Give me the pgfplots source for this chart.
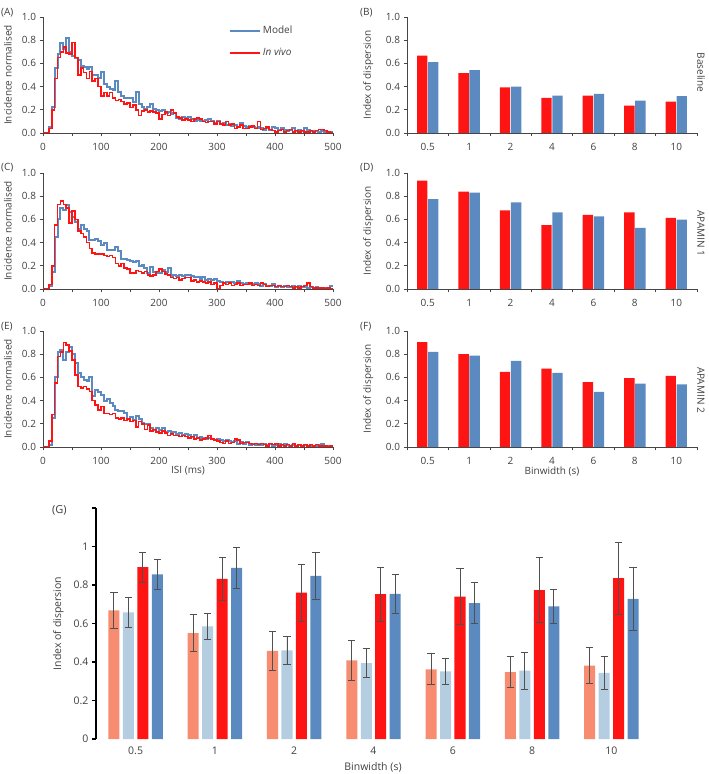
\documentclass[border=0pt]{standalone}
\usepackage{fontspec}
\setmainfont{Open Sans}
\usepackage{pgfplots}
\usepackage{pgfplotstable}
\pgfplotsset{compat=1.18}
\definecolor{myred}{RGB}{255,20,20}
\definecolor{myblue}{RGB}{91,138,192}
\definecolor{salmon}{RGB}{247,140,112}
\definecolor{ltblue}{RGB}{180,205,224}
\definecolor{axisgrey}{RGB}{70,70,70}
\definecolor{labelgrey}{RGB}{64,64,64}
\definecolor{errgrey}{RGB}{80,80,80}

\pgfplotstableread{
x mod viv
0 0 0
5 0 0
10 0.05 0.04
15 0.22 0.20
20 0.56 0.47
25 0.68 0.65
30 0.78 0.70
35 0.72 0.74
40 0.82 0.69
45 0.70 0.68
50 0.66 0.78
55 0.65 0.65
60 0.63 0.50
65 0.58 0.56
70 0.57 0.52
75 0.55 0.47
80 0.57 0.53
85 0.50 0.45
90 0.50 0.47
95 0.47 0.40
100 0.53 0.32
105 0.42 0.35
110 0.40 0.32
115 0.38 0.35
120 0.37 0.30
125 0.45 0.28
130 0.35 0.29
135 0.32 0.27
140 0.30 0.25
145 0.30 0.26
150 0.30 0.22
155 0.27 0.24
160 0.35 0.20
165 0.25 0.15
170 0.22 0.19
175 0.21 0.20
180 0.22 0.18
185 0.25 0.19
190 0.21 0.18
195 0.20 0.17
200 0.19 0.12
205 0.20 0.16
210 0.17 0.18
215 0.18 0.15
220 0.16 0.20
225 0.17 0.17
230 0.13 0.14
235 0.12 0.13
240 0.14 0.11
245 0.13 0.12
250 0.14 0.11
255 0.12 0.10
260 0.10 0.12
265 0.11 0.13
270 0.10 0.12
275 0.10 0.10
280 0.11 0.09
285 0.12 0.10
290 0.10 0.10
295 0.09 0.08
300 0.10 0.10
305 0.08 0.08
310 0.09 0.07
315 0.07 0.10
320 0.08 0.07
325 0.06 0.08
330 0.07 0.04
335 0.05 0.05
340 0.09 0.07
345 0.06 0.04
350 0.05 0.04
355 0.06 0.05
360 0.05 0.06
365 0.04 0.04
370 0.05 0.10
375 0.04 0.03
380 0.03 0.04
385 0.04 0.05
390 0.03 0.03
395 0.05 0.02
400 0.04 0.01
405 0.03 0.02
410 0.04 0.03
415 0.03 0.01
420 0.02 0.02
425 0.03 0.03
430 0.04 0.01
435 0.02 0.02
440 0.03 0.01
445 0.02 0.02
450 0.04 0.01
455 0.03 0.01
460 0.02 0.02
465 0.02 0.01
470 0.02 0.02
475 0.01 0.03
480 0.02 0.03
485 0.01 0.02
490 0.01 0.01
495 0.01 0.00
500 0.01 0.00
}\histA

\pgfplotstableread{
x mod viv
0 0 0
5 0 0
10 0.03 0.04
15 0.15 0.20
20 0.45 0.55
25 0.60 0.73
30 0.70 0.76
35 0.68 0.73
40 0.72 0.70
45 0.66 0.57
50 0.62 0.67
55 0.58 0.60
60 0.52 0.50
65 0.55 0.48
70 0.52 0.45
75 0.50 0.40
80 0.42 0.35
85 0.42 0.31
90 0.43 0.30
95 0.41 0.30
100 0.38 0.30
105 0.40 0.29
110 0.34 0.28
115 0.34 0.29
120 0.34 0.27
125 0.36 0.22
130 0.33 0.20
135 0.26 0.22
140 0.26 0.18
145 0.25 0.17
150 0.24 0.14
155 0.23 0.14
160 0.24 0.16
165 0.20 0.15
170 0.21 0.14
175 0.18 0.15
180 0.14 0.12
185 0.19 0.11
190 0.15 0.12
195 0.14 0.15
200 0.14 0.17
205 0.16 0.15
210 0.15 0.13
215 0.18 0.12
220 0.11 0.10
225 0.12 0.09
230 0.11 0.10
235 0.12 0.08
240 0.11 0.09
245 0.12 0.10
250 0.12 0.10
255 0.11 0.07
260 0.10 0.08
265 0.10 0.06
270 0.09 0.07
275 0.10 0.06
280 0.08 0.05
285 0.09 0.06
290 0.08 0.04
295 0.09 0.05
300 0.07 0.00
305 0.06 0.03
310 0.05 0.05
315 0.06 0.04
320 0.05 0.05
325 0.06 0.03
330 0.05 0.04
335 0.07 0.05
340 0.05 0.03
345 0.04 0.04
350 0.05 0.04
355 0.04 0.05
360 0.04 0.03
365 0.05 0.04
370 0.04 0.03
375 0.03 0.05
380 0.04 0.04
385 0.03 0.02
390 0.03 0.03
395 0.04 0.03
400 0.02 0.02
405 0.03 0.03
410 0.02 0.02
415 0.03 0.02
420 0.02 0.03
425 0.02 0.02
430 0.03 0.01
435 0.02 0.02
440 0.03 0.01
445 0.02 0.02
450 0.02 0.03
455 0.01 0.05
460 0.02 0.02
465 0.01 0.01
470 0.02 0.01
475 0.01 0.01
480 0.01 0.01
485 0.01 0.00
490 0.01 0.01
495 0.03 0.00
500 0.03 0.00
}\histC

\pgfplotstableread{
x mod viv
0 0 0
5 0 0
10 0.02 0.05
15 0.25 0.28
20 0.60 0.55
25 0.82 0.78
30 0.84 0.82
35 0.75 0.90
40 0.82 0.88
45 0.86 0.83
50 0.80 0.75
55 0.72 0.62
60 0.64 0.52
65 0.60 0.51
70 0.58 0.52
75 0.57 0.50
80 0.60 0.48
85 0.44 0.40
90 0.49 0.36
95 0.47 0.32
100 0.45 0.35
105 0.40 0.29
110 0.41 0.29
115 0.38 0.28
120 0.35 0.29
125 0.32 0.25
130 0.31 0.24
135 0.31 0.25
140 0.29 0.23
145 0.24 0.24
150 0.26 0.22
155 0.23 0.23
160 0.27 0.17
165 0.24 0.22
170 0.21 0.20
175 0.20 0.15
180 0.20 0.19
185 0.16 0.14
190 0.15 0.15
195 0.16 0.13
200 0.15 0.12
205 0.16 0.14
210 0.13 0.12
215 0.14 0.10
220 0.12 0.11
225 0.13 0.10
230 0.11 0.10
235 0.12 0.09
240 0.10 0.10
245 0.11 0.09
250 0.10 0.08
255 0.09 0.09
260 0.10 0.07
265 0.08 0.08
270 0.09 0.06
275 0.08 0.07
280 0.07 0.08
285 0.08 0.10
290 0.07 0.07
295 0.06 0.06
300 0.07 0.05
305 0.06 0.04
310 0.05 0.03
315 0.06 0.05
320 0.05 0.03
325 0.04 0.04
330 0.05 0.07
335 0.03 0.06
340 0.04 0.03
345 0.03 0.04
350 0.04 0.04
355 0.02 0.03
360 0.03 0.02
365 0.02 0.03
370 0.03 0.02
375 0.02 0.03
380 0.03 0.02
385 0.02 0.01
390 0.03 0.03
395 0.01 0.02
400 0.02 0.03
405 0.03 0.01
410 0.02 0.02
415 0.03 0.01
420 0.02 0.02
425 0.01 0.01
430 0.02 0.03
435 0.01 0.01
440 0.02 0.02
445 0.01 0.01
450 0.02 0.02
455 0.01 0.01
460 0.01 0.02
465 0.01 0.01
470 0.01 0.02
475 0.02 0.01
480 0.03 0.01
485 0.01 0.01
490 0.01 0.00
495 0.01 0.01
500 0.01 0.01
}\histE

\pgfplotsset{
  base/.style={
    scale only axis, axis lines=left,
    axis line style={-, draw=axisgrey, line width=0.6pt},
    tick align=outside, major tick length=3.5pt, minor tick length=3.5pt,
    tick style={draw=axisgrey, line width=0.6pt},
    tick label style={font=\fontsize{10}{12}\selectfont, text=labelgrey},
    label style={font=\fontsize{10}{12}\selectfont, text=labelgrey},
    /pgf/number format/assume math mode=true,
    ymin=0,
  },
  small/.style={base, width=290pt, height=116pt, ymax=1,
    ytick={0,0.2,0.4,0.6,0.8,1},
    yticklabel style={/pgf/number format/.cd, fixed, fixed zerofill, precision=1},
    xticklabel style={yshift=-3.5pt},
  },
  hist/.style={small, xmin=0, xmax=500, xtick={0,100,200,300,400,500},
    minor xtick={50,150,250,350,450},
    ylabel={Incidence normalised},
    ylabel style={at={(axis description cs:-0.121,0.5)}, anchor=center}},
  bars/.style={small, xmin=-0.5, xmax=6.5, xtick={0,1,2,3,4,5,6},
    xticklabels={0.5,1,2,4,6,8,10},
    major x tick style={draw=none},
    minor xtick={-0.5,0.5,1.5,2.5,3.5,4.5,5.5,6.5},
    ylabel={Index of dispersion},
    ylabel style={at={(axis description cs:-0.134,0.5)}, anchor=center}},
  modl/.style={const plot, color=myblue, line width=2pt, no marks},
  vivo/.style={const plot, color=myred, line width=1.6pt, no marks},
  rbar/.style={ybar, bar width=0.25, bar shift=-0.133, fill=myred, draw=none},
  bbar/.style={ybar, bar width=0.25, bar shift=0.133, fill=myblue, draw=none},
  gbar/.style={ybar, bar width=0.139, bar shift=0, draw=none,
    error bars/y dir=both, error bars/y explicit,
    error bars/error bar style={line width=0.9pt, color=errgrey},
    error bars/error mark options={rotate=90, mark size=3.6pt, line width=0.9pt, color=errgrey}},
}

\begin{document}
\begin{tikzpicture}
\useasboundingbox (0pt,0pt) rectangle (709pt,774pt);
\tikzset{lab/.style={font=\fontsize{10}{12}\selectfont, text=labelgrey, inner sep=0pt}}

% (A)
\begin{axis}[hist, at={(43pt,641pt)}, anchor=south west,
  legend style={draw=none, fill=none, at={(rel axis cs:0.64,0.94)}, anchor=north west,
    font=\fontsize{10}{12}\selectfont, text=labelgrey, row sep=9pt, inner sep=0pt},
  legend cell align=left]
\addlegendimage{legend image code/.code={\draw[myblue, line width=2.2pt] (0pt,0pt) -- (30pt,0pt);}}
\addlegendentry{Model}
\addlegendimage{legend image code/.code={\draw[myred, line width=2.2pt] (0pt,0pt) -- (30pt,0pt);}}
\addlegendentry{\itshape In vivo}
\addplot[modl, forget plot] table[x=x, y=mod] {\histA};
\addplot[vivo, forget plot] table[x=x, y=viv] {\histA};
\end{axis}

% (B)
\begin{axis}[bars, at={(407pt,641pt)}, anchor=south west]
\addplot[rbar] coordinates {(0,0.666) (1,0.517) (2,0.394) (3,0.303) (4,0.323) (5,0.237) (6,0.271)};
\addplot[bbar] coordinates {(0,0.611) (1,0.543) (2,0.400) (3,0.323) (4,0.337) (5,0.280) (6,0.317)};
\end{axis}

% (C)
\begin{axis}[hist, at={(43pt,485pt)}, anchor=south west]
\addplot[modl] table[x=x, y=mod] {\histC};
\addplot[vivo] table[x=x, y=viv] {\histC};
\end{axis}

% (D)
\begin{axis}[bars, at={(407pt,485pt)}, anchor=south west]
\addplot[rbar] coordinates {(0,0.934) (1,0.839) (2,0.677) (3,0.550) (4,0.640) (5,0.660) (6,0.614)};
\addplot[bbar] coordinates {(0,0.775) (1,0.830) (2,0.746) (3,0.660) (4,0.625) (5,0.527) (6,0.599)};
\end{axis}

% (E)
\begin{axis}[hist, at={(43pt,327pt)}, anchor=south west]
\addplot[modl] table[x=x, y=mod] {\histE};
\addplot[vivo] table[x=x, y=viv] {\histE};
\end{axis}

% (F)
\begin{axis}[bars, at={(407pt,327pt)}, anchor=south west]
\addplot[rbar] coordinates {(0,0.905) (1,0.800) (2,0.648) (3,0.676) (4,0.559) (5,0.593) (6,0.613)};
\addplot[bbar] coordinates {(0,0.820) (1,0.788) (2,0.742) (3,0.639) (4,0.476) (5,0.547) (6,0.539)};
\end{axis}

% (G)
\begin{axis}[base, at={(96pt,35pt)}, anchor=south west, width=555pt, height=231pt,
  ymax=1.2, xmin=-0.5, xmax=6.5,
  axis line style={-, draw=black, line width=1.1pt},
  x axis line style={draw=none},
  tick style={draw=black, line width=1.1pt},
  major tick length=4pt,
  major x tick style={draw=none},
  tick label style={font=\fontsize{10.5}{12}\selectfont, text=labelgrey},
  ytick={0,0.2,0.4,0.6,0.8,1,1.2}, yticklabels={0,0.2,0.4,0.6,0.8,1,},
  xtick={0,1,2,3,4,5,6}, xticklabels={0.5,1,2,4,6,8,10},
  ylabel={Index of dispersion},
  ylabel style={at={(axis description cs:-0.068,0.5)}, anchor=center, font=\fontsize{10.5}{12}\selectfont},
  ]
\addplot[gbar, fill=salmon] coordinates {
  (-0.274,0.668) +- (0,0.093) (0.726,0.550) +- (0,0.095) (1.726,0.458) +- (0,0.100)
  (2.726,0.408) +- (0,0.103) (3.726,0.362) +- (0,0.081) (4.726,0.348) +- (0,0.079) (5.726,0.381) +- (0,0.095)};
\addplot[gbar, fill=ltblue] coordinates {
  (-0.091,0.658) +- (0,0.078) (0.909,0.585) +- (0,0.066) (1.909,0.460) +- (0,0.074)
  (2.909,0.394) +- (0,0.075) (3.909,0.351) +- (0,0.068) (4.909,0.355) +- (0,0.096) (5.909,0.344) +- (0,0.085)};
\addplot[gbar, fill=myred] coordinates {
  (0.091,0.893) +- (0,0.078) (1.091,0.832) +- (0,0.110) (2.091,0.761) +- (0,0.148)
  (3.091,0.753) +- (0,0.140) (4.091,0.739) +- (0,0.146) (5.091,0.773) +- (0,0.168) (6.091,0.836) +- (0,0.187)};
\addplot[gbar, fill=myblue] coordinates {
  (0.274,0.855) +- (0,0.077) (1.274,0.889) +- (0,0.107) (2.274,0.848) +- (0,0.121)
  (3.274,0.754) +- (0,0.100) (4.274,0.706) +- (0,0.108) (5.274,0.689) +- (0,0.088) (6.274,0.728) +- (0,0.165)};
\end{axis}

% panel letters and side labels
\node[lab, anchor=west] at (1pt,761.5pt) {(A)};
\node[lab, anchor=west] at (360pt,761.5pt) {(B)};
\node[lab, anchor=west] at (1pt,606pt) {(C)};
\node[lab, anchor=west] at (360pt,606pt) {(D)};
\node[lab, anchor=west] at (1pt,447pt) {(E)};
\node[lab, anchor=west] at (360pt,447pt) {(F)};
\node[lab, anchor=west, font=\fontsize{11}{13}\selectfont] at (52pt,264pt) {(G)};
\node[lab, rotate=-90] at (701pt,701.5pt) {Baseline};
\node[lab, rotate=-90] at (701pt,540.5pt) {APAMIN 1};
\node[lab, rotate=-90] at (701pt,384pt) {APAMIN 2};
\node[lab] at (188pt,303pt) {ISI (ms)};
\node[lab] at (552pt,303pt) {Binwidth (s)};
\node[lab, font=\fontsize{10.5}{12}\selectfont] at (373pt,7pt) {Binwidth (s)};
\end{tikzpicture}
\end{document}
